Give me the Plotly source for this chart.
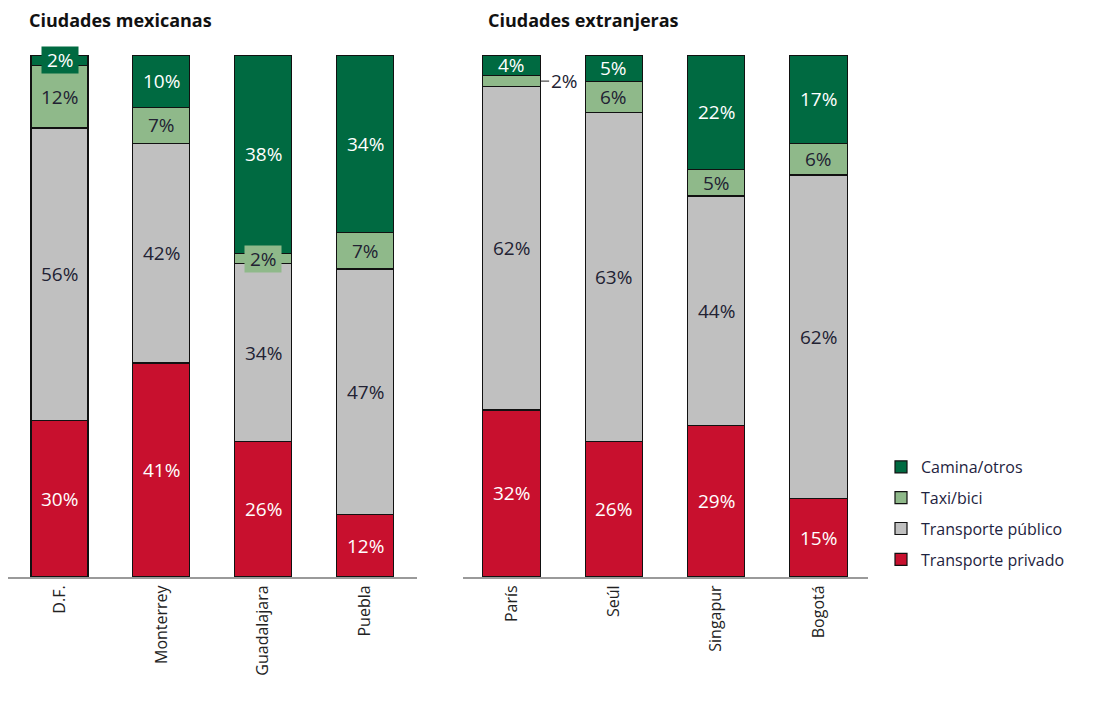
import plotly.graph_objects as go

# Modal split (%) per city, bottom to top of each stacked bar
mex_cities = ["D.F.", "Monterrey", "Guadalajara", "Puebla"]
ext_cities = ["París", "Seúl", "Singapur", "Bogotá"]

series = ["Transporte privado", "Transporte público", "Taxi/bici", "Camina/otros"]
mex_privado = [30, 41, 26, 12]
mex_publico = [56, 42, 34, 47]
mex_taxi = [12, 7, 2, 7]
mex_camina = [2, 10, 38, 34]
ext_privado = [32, 26, 29, 15]
ext_publico = [62, 63, 44, 62]
ext_taxi = [2, 6, 5, 6]
ext_camina = [4, 5, 22, 17]

COLORS = ["#c8102e", "#c0c0c0", "#8fb98a", "#006a41"]
TEXT_COLORS = ["white", "#222233", "#222233", "white"]
FONT = "Open Sans"
W, H = 1099, 704
OFF = 8  # page body margin


def px(x):
    return (x - OFF) / W


def py(y):
    return 1 - (y - OFF) / H


fig = go.Figure()

panels = [
    ("x", "y", mex_cities, [mex_privado, mex_publico, mex_taxi, mex_camina]),
    ("x2", "y2", ext_cities, [ext_privado, ext_publico, ext_taxi, ext_camina]),
]

annotations = []
for p, (xa, ya, cities, values) in enumerate(panels):
    base = [0] * len(cities)
    for s, vals in enumerate(values):
        fig.add_trace(go.Bar(
            x=cities, y=vals, name=series[s], xaxis=xa, yaxis=ya,
            marker=dict(color=COLORS[s], line=dict(color="#111111", width=1.2)),
            width=0.56, showlegend=(p == 0), legendgroup=series[s],
            legendrank=10 - s,
        ))
        for i, v in enumerate(vals):
            mid = base[i] + v / 2
            ann = dict(x=cities[i], y=mid, xref=xa, yref=ya, text=f"{v}%",
                       showarrow=False,
                       font=dict(family=FONT, size=19, color=TEXT_COLORS[s]))
            if v <= 2:
                if cities[i] == "París":
                    # small slice labelled outside with a leader line
                    ann.update(x=0.28, showarrow=True, arrowhead=0, arrowwidth=1,
                               arrowcolor="#222222", ax=9, ay=0, xanchor="left",
                               font=dict(family=FONT, size=19, color="#222233"))
                else:
                    ann.update(text=f"&nbsp;{v}%&nbsp;", bgcolor=COLORS[s], borderpad=0)
            annotations.append(ann)
            base[i] += v

annotations += [
    dict(x=px(27), y=py(20), xref="paper", yref="paper", xanchor="left",
         yanchor="middle", showarrow=False, text="<b>Ciudades mexicanas</b>",
         font=dict(family=FONT, size=18, color="#111111")),
    dict(x=px(486), y=py(20), xref="paper", yref="paper", xanchor="left",
         yanchor="middle", showarrow=False, text="<b>Ciudades extranjeras</b>",
         font=dict(family=FONT, size=18, color="#111111")),
]

axis_common = dict(showgrid=False, zeroline=False, showline=True, linecolor="#9a9a9a",
                   linewidth=2, ticks="", tickangle=-90,
                   tickfont=dict(family=FONT, size=16, color="#222222"))
yaxis_common = dict(range=[0, 100], visible=False, domain=[py(577), py(55)])

fig.update_layout(
    barmode="stack",
    width=W, height=H,
    margin=dict(l=0, r=0, t=0, b=0),
    paper_bgcolor="white", plot_bgcolor="white",
    xaxis=dict(domain=[px(8), px(417)], range=[-0.506, 3.51], **axis_common),
    xaxis2=dict(domain=[px(463), px(868)], range=[-0.474, 3.484], anchor="y2",
                **axis_common),
    yaxis=dict(anchor="x", **yaxis_common),
    yaxis2=dict(anchor="x2", **yaxis_common),
    legend=dict(x=px(881), y=py(450), xanchor="left", yanchor="top",
                traceorder="grouped", font=dict(family=FONT, size=16, color="#1e2340"),
                itemwidth=30, tracegroupgap=7),
    annotations=annotations,
    showlegend=True,
)

fig.write_html("out.html")
